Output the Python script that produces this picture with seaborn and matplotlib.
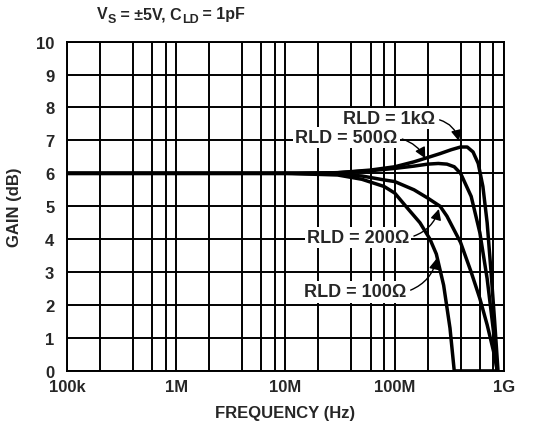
import numpy as np
import pandas as pd
import matplotlib
matplotlib.use("Agg")
import matplotlib.pyplot as plt
import seaborn as sns

# gain vs frequency for each load resistor
freq_1k = [1e5, 1e7, 3e7, 6e7, 1e8, 1.5e8, 2e8, 2.6e8, 3.3e8, 4e8, 4.6e8, 5.2e8, 5.8e8, 6.4e8, 7e8, 7.6e8, 8.2e8, 8.8e8]
gain_1k = [6.0, 6.0, 6.02, 6.1, 6.2, 6.35, 6.48, 6.6, 6.72, 6.8, 6.8, 6.65, 6.3, 5.6, 4.5, 3.0, 1.5, 0.0]

freq_500 = [1e5, 1e7, 3e7, 6e7, 1e8, 1.5e8, 2e8, 2.5e8, 3e8, 3.5e8, 4e8, 5e8, 6e8, 7e8, 8e8, 8.6e8]
gain_500 = [6.0, 6.0, 6.02, 6.08, 6.15, 6.22, 6.28, 6.3, 6.28, 6.2, 6.0, 5.3, 4.2, 2.8, 1.2, 0.0]

freq_200 = [1e5, 1e7, 3e7, 5e7, 8e7, 1e8, 1.5e8, 2e8, 2.6e8, 3e8, 4e8, 5e8, 6e8, 7e8, 8e8, 8.7e8]
gain_200 = [6.0, 6.0, 5.98, 5.92, 5.8, 5.75, 5.5, 5.25, 5.0, 4.7, 3.9, 3.0, 2.2, 1.4, 0.6, 0.0]

freq_100 = [1e5, 1e7, 3e7, 5e7, 8e7, 1e8, 1.3e8, 1.7e8, 2.1e8, 2.4e8, 2.8e8, 3.2e8, 3.5e8, 8.7e8]
gain_100 = [6.0, 6.0, 5.95, 5.82, 5.6, 5.4, 4.95, 4.5, 4.0, 3.55, 2.6, 1.3, 0.0, 0.0]

xticks = [1e5, 1e6, 1e7, 1e8, 1e9]
xticklabels = ["100k", "1M", "10M", "100M", "1G"]

sns.set_style("white")
plt.rcParams["font.family"] = ["Liberation Sans", "DejaVu Sans"]
plt.rcParams["font.weight"] = "bold"

fig = plt.figure(figsize=(5.57, 4.35), dpi=100)
ax = fig.add_axes([0.120, 0.145, 0.785, 0.757])

for f, g in [(freq_1k, gain_1k), (freq_500, gain_500), (freq_200, gain_200), (freq_100, gain_100)]:
    df = pd.DataFrame({"f": f, "g": g})
    sns.lineplot(data=df, x="f", y="g", color="black", lw=2.5, ax=ax, zorder=3)

ax.set_xscale("log")
ax.set_xlim(1e5, 1e9)
ax.set_ylim(0, 10)
ax.set_xticks(xticks)
ax.set_xticklabels(xticklabels, fontsize=12, fontweight="bold")
minor = [m * d for d in [1e5, 1e6, 1e7, 1e8] for m in [2, 4, 6, 8]]
ax.set_xticks(minor, minor=True)
ax.set_xticklabels([], minor=True)
ax.set_yticks(range(11))
ax.set_yticklabels([str(i) for i in range(11)], fontsize=12, fontweight="bold")
ax.tick_params(which="both", length=0)
ax.tick_params(axis="x", pad=6)
ax.tick_params(axis="y", pad=9)
ax.grid(True, which="both", color="black", lw=1.4)
for s in ax.spines.values():
    s.set_color("black")
    s.set_linewidth(1.4)

ax.set_xlabel("FREQUENCY (Hz)", fontsize=12, fontweight="bold", labelpad=8)
ax.set_ylabel("GAIN (dB)", fontsize=12, fontweight="bold", labelpad=10)

box = dict(facecolor="white", edgecolor="none", pad=1.5)
arrow = dict(arrowstyle="-|>", color="black", lw=1, mutation_scale=16, relpos=(1, 0.5))
ax.annotate("RLD = 500Ω", xy=(1.95e8, 6.38), xytext=(3.6e7, 7.08), ha="center", va="center",
            fontsize=13, fontweight="bold", bbox=box, zorder=4,
            arrowprops=dict(arrow, connectionstyle="arc3,rad=-0.25"))
ax.annotate("RLD = 1kΩ", xy=(3.9e8, 6.9), xytext=(8.8e7, 7.66), ha="center", va="center",
            fontsize=13, fontweight="bold", bbox=box, zorder=5,
            arrowprops=dict(arrow, connectionstyle="arc3,rad=-0.35"))
ax.annotate("RLD = 200Ω", xy=(2.57e8, 5.0), xytext=(4.6e7, 4.05), ha="center", va="center",
            fontsize=13, fontweight="bold", bbox=box, zorder=4,
            arrowprops=dict(arrow, connectionstyle="arc3,rad=0.3"))
ax.annotate("RLD = 100Ω", xy=(2.45e8, 3.5), xytext=(4.3e7, 2.4), ha="center", va="center",
            fontsize=13, fontweight="bold", bbox=box, zorder=4,
            arrowprops=dict(arrow, connectionstyle="arc3,rad=0.3"))

# title with subscripts built from pieces
renderer = fig.canvas.get_renderer()
x0 = 97 / 557
ybase = 1 - 19 / 435
pieces = [("V", 11.5, 0), ("S", 9, -4), (" = ±5V, C", 11.5, 0), ("LD", 9, -4), (" = 1pF", 11.5, 0)]
for s, size, dy in pieces:
    t = fig.text(x0, ybase + dy / 435, s, fontsize=size, fontweight="bold", va="baseline", ha="left")
    x0 += t.get_window_extent(renderer).width / fig.bbox.width

fig.savefig("out.png", dpi=100)
